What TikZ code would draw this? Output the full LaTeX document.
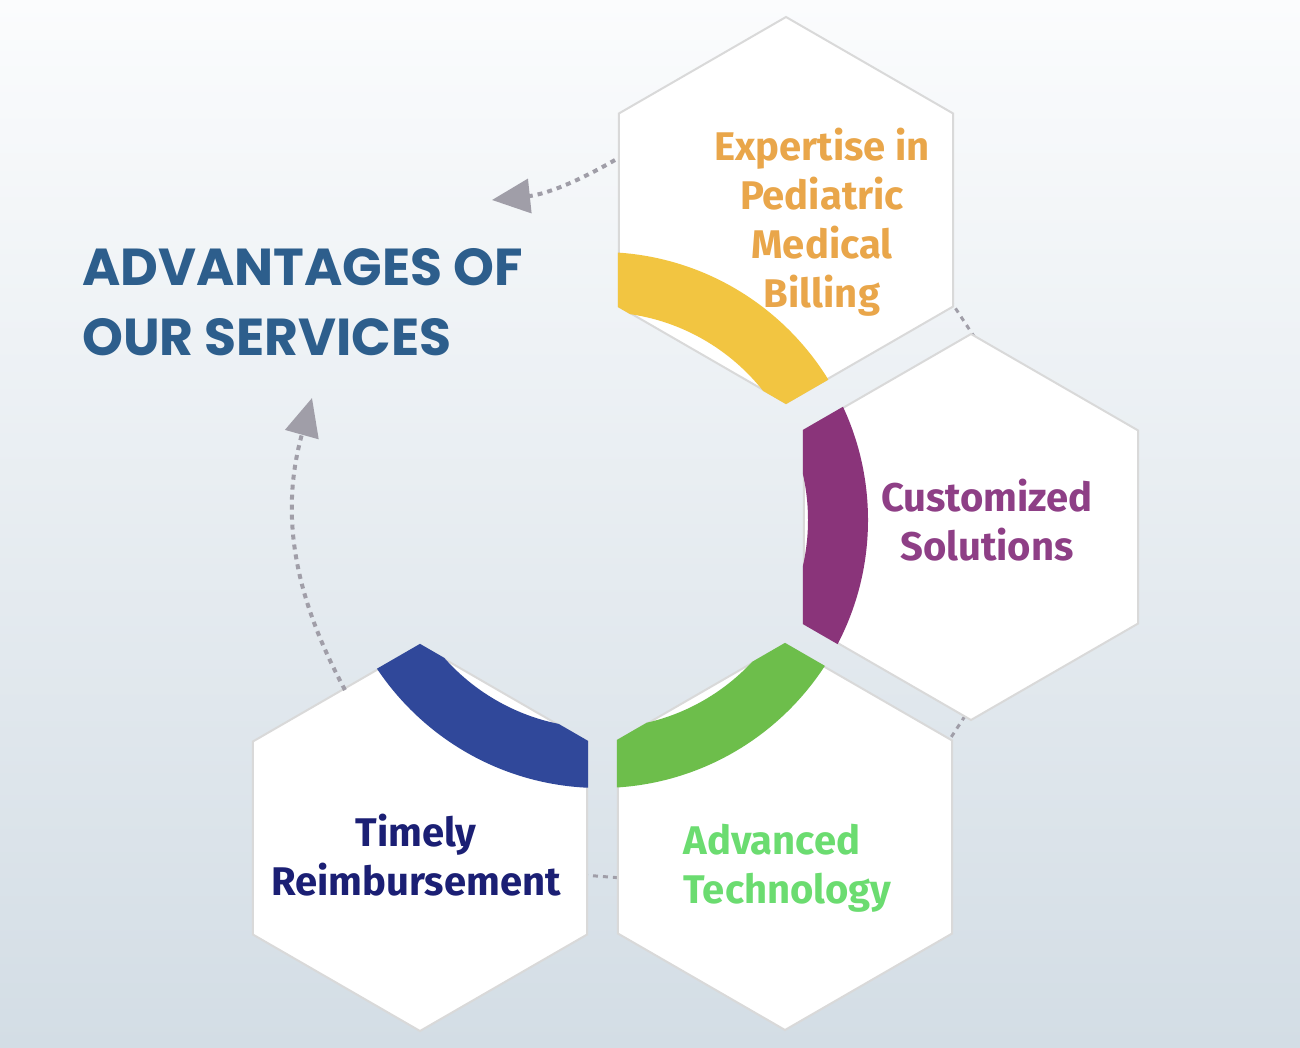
\documentclass[tikz,border=0pt]{standalone}
\usepackage{fontspec}
\setmainfont{Fira Sans}
\newfontfamily\titlefont{Poppins}
\usetikzlibrary{shapes.geometric,arrows.meta}
\definecolor{bgtop}{HTML}{FBFCFD}
\definecolor{bgbot}{HTML}{D3DDE5}
\definecolor{cyel}{HTML}{F2C541}
\definecolor{cpur}{HTML}{8A347A}
\definecolor{cgrn}{HTML}{6DBE4B}
\definecolor{cblu}{HTML}{30489A}
\definecolor{torange}{HTML}{E9A64A}
\definecolor{tpurple}{HTML}{8E3F86}
\definecolor{tgreen}{HTML}{6BDC70}
\definecolor{tnavy}{HTML}{1B1F74}
\definecolor{ttitle}{HTML}{2D5E8C}
\definecolor{dotgray}{HTML}{A09EA8}
\begin{document}
\begin{tikzpicture}[x=1pt,y=-1pt,
  hex/.style={regular polygon,regular polygon sides=6,shape border rotate=30,minimum size=386pt,inner sep=0pt,fill=white,draw=gray!30,line width=2pt},
  lbl/.style={font=\fontsize{40}{49}\selectfont\bfseries,align=center},
  dots/.style={dotgray,line width=4pt,dash pattern=on 5pt off 5pt},
  dotarrow/.style={dots,-{Triangle[length=38pt,width=34pt,fill=dotgray]}}]
\shade[top color=bgtop,bottom color=bgbot] (0,0) rectangle (1300,1048);
\useasboundingbox (0,0) rectangle (1300,1048);
% connectors between hexes
\coordinate (c1a) at (950,300); \coordinate (c1b) at (975,338);
\coordinate (c2a) at (965,716); \coordinate (c2b) at (948,742);
\coordinate (c3a) at (583,875); \coordinate (c3b) at (622,878);
\draw[dots,line width=3pt] (c1a)--(c1b);
\draw[dots,line width=3pt] (c2a)--(c2b);
\draw[dots,line width=3pt] (c3a)--(c3b);
\node[hex] (h1) at (786,210) {};
\node[hex] (h2) at (971,527) {};
\node[hex] (h3) at (785,837) {};
\node[hex] (h4) at (420,838) {};
% coloured ring segments
\foreach \h/\c in {h1/cyel,h2/cpur,h3/cgrn,h4/cblu}{
  \begin{scope}
  \clip (\h.corner 1)--(\h.corner 2)--(\h.corner 3)--(\h.corner 4)--(\h.corner 5)--(\h.corner 6)--cycle;
  \fill[\c,even odd rule] (600,520) circle[radius=268] circle[radius=208];
  \end{scope}}
% dotted arrows
\coordinate (a1s) at (615,160); \coordinate (a1e) at (492,200);
\coordinate (a2s) at (345,690); \coordinate (a2e) at (312,398);
\draw[dotarrow] (a1s) to[bend left=12] (a1e);
\draw[dotarrow] (a2s) to[bend left=22] (a2e);
% title
\node[font=\titlefont\fontsize{52}{70}\selectfont\bfseries,text=ttitle,align=left,anchor=north west,inner sep=0pt] (title) at (82,248) {ADVANTAGES OF\\OUR SERVICES};
% labels
\node[lbl,text=torange] (t1) at (822,222) {Expertise in\\Pediatric\\Medical\\Billing};
\node[lbl,text=tpurple] (t2) at (987,520) {Customized\\Solutions};
\node[lbl,text=tgreen,align=left,anchor=west] (t3) at (680,868) {Advanced\\Technology};
\node[lbl,text=tnavy] (t4) at (416,855) {Timely\\Reimbursement};
\end{tikzpicture}
\end{document}
